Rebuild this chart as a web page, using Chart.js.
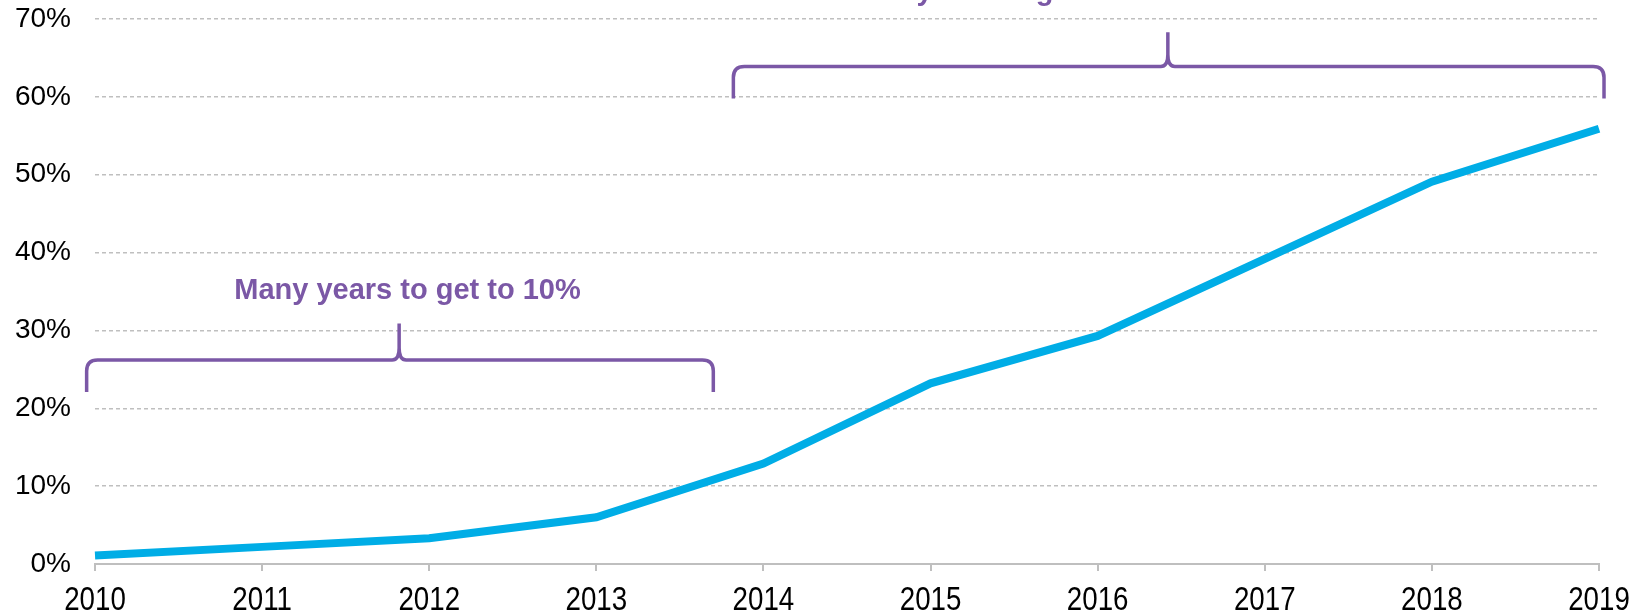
<!DOCTYPE html>
<html>
<head>
<meta charset="utf-8">
<script src="https://cdn.jsdelivr.net/npm/chart.js@4/dist/chart.umd.min.js"></script>
<style>
    html, body { margin: 0; padding: 0; background: #ffffff; }
    #wrap { width: 1641px; height: 612px; }
</style>
</head>
<body>
<div id="wrap"><canvas id="line_chart"></canvas></div>
<script>
// chart data
const years = ['2010', '2011', '2012', '2013', '2014', '2015', '2016', '2017', '2018', '2019'];
const shareValues = [1.1, 2.2, 3.3, 6.0, 12.9, 23.2, 29.3, 39.2, 49.1, 55.9];
const yTicks = [0, 10, 20, 30, 40, 50, 60, 70];

// braces: [start index, middle index, end index] and [end value, bar value, tip value]
const braceOneX = [-0.05, 1.82, 3.70];
const braceOneY = [22.1, 26.2, 30.9];
const braceTwoX = [3.82, 6.42, 9.03];
const braceTwoY = [59.8, 63.9, 68.3];
const noteOne = 'Many years to get to 10%';
const noteTwo = 'Few years to get to 50%';

const purple = '#7B58A6';
const grey = '#BFBFBF';

const drawBrace = (ctx, xs, ys, xScale, yScale) => {
    const x0 = xScale.getPixelForValue(xs[0]);
    const xm = xScale.getPixelForValue(xs[1]);
    const x1 = xScale.getPixelForValue(xs[2]);
    const yB = yScale.getPixelForValue(ys[0]);
    const yH = yScale.getPixelForValue(ys[1]);
    const yP = yScale.getPixelForValue(ys[2]);
    const r = 11;
    ctx.save();
    ctx.strokeStyle = purple;
    ctx.lineWidth = 3.5;
    ctx.lineJoin = 'round';
    ctx.beginPath();
    ctx.moveTo(x0, yB);
    ctx.lineTo(x0, yH + r);
    ctx.quadraticCurveTo(x0, yH, x0 + r, yH);
    ctx.lineTo(xm - 7, yH);
    ctx.quadraticCurveTo(xm, yH, xm, yH - 12);
    ctx.lineTo(xm, yP);
    ctx.moveTo(x1, yB);
    ctx.lineTo(x1, yH + r);
    ctx.quadraticCurveTo(x1, yH, x1 - r, yH);
    ctx.lineTo(xm + 7, yH);
    ctx.quadraticCurveTo(xm, yH, xm, yH - 12);
    ctx.stroke();
    ctx.restore();
}

const bracePlugin = {
    id: 'braces',
    afterDraw: (chart) => {
        const ctx = chart.ctx;
        const xScale = chart.scales.x;
        const yScale = chart.scales.y;
        drawBrace(ctx, braceOneX, braceOneY, xScale, yScale);
        drawBrace(ctx, braceTwoX, braceTwoY, xScale, yScale);
        ctx.save();
        ctx.fillStyle = purple;
        ctx.font = "bold 29px 'Liberation Sans', Arial, sans-serif";
        ctx.textBaseline = 'alphabetic';
        ctx.textAlign = 'center';
        ctx.fillText(noteOne, xScale.getPixelForValue(1.87), yScale.getPixelForValue(34.0));
        // top note runs past the top edge, only its tails show
        ctx.textAlign = 'left';
        ctx.fillText(noteTwo, xScale.getPixelForValue(4.53), yScale.getPixelForValue(72.5));
        ctx.restore();

        // year labels, squeezed like a narrow font
        ctx.save();
        ctx.fillStyle = '#000000';
        ctx.font = "33px 'Liberation Sans', Arial, sans-serif";
        ctx.textAlign = 'center';
        ctx.textBaseline = 'alphabetic';
        years.forEach((year, i) => {
            ctx.save();
            ctx.translate(xScale.getPixelForValue(i), xScale.bottom - 2);
            ctx.scale(0.84, 1);
            ctx.fillText(year, 0, 0);
            ctx.restore();
        });
        ctx.restore();
    }
}

const ctx = document.querySelector('#line_chart');
const chart = new Chart(ctx, {
    type: 'line',
    data: {
        labels: years,
        datasets: [{
            label: 'Share',
            data: shareValues,
            borderColor: '#00ADE6',
            borderWidth: 8,
            pointRadius: 0,
            tension: 0,
            fill: false
        }]
    },
    options: {
        responsive: true,
        maintainAspectRatio: false,
        animation: false,
        layout: {
            padding: { top: 0, right: 42, left: 0, bottom: 0 }
        },
        plugins: {
            legend: { display: false },
            tooltip: { enabled: false }
        },
        scales: {
            x: {
                offset: false,
                afterFit: (scale) => { scale.height = 48; },
                grid: {
                    drawOnChartArea: false,
                    drawTicks: true,
                    tickLength: 7,
                    color: grey,
                    lineWidth: 2
                },
                border: { display: true, color: grey, width: 2 },
                ticks: { display: false, autoSkip: false }
            },
            y: {
                min: 0,
                max: 70,
                afterFit: (scale) => {
                    scale.width = 95;
                    scale.paddingTop = 19;
                    scale.paddingBottom = 0;
                },
                afterBuildTicks: (scale) => {
                    scale.ticks = yTicks.map(v => ({ value: v }));
                },
                grid: {
                    drawTicks: false,
                    color: (c) => c.tick && c.tick.value === 0 ? 'rgba(0,0,0,0)' : grey,
                    lineWidth: 1.5
                },
                border: { display: false, dash: [4, 3] },
                ticks: {
                    color: '#000000',
                    padding: 24,
                    font: { family: "'Liberation Sans', Arial, sans-serif", size: 28 },
                    callback: (value) => value + '%'
                }
            }
        }
    },
    plugins: [bracePlugin]
});
</script>
</body>
</html>
